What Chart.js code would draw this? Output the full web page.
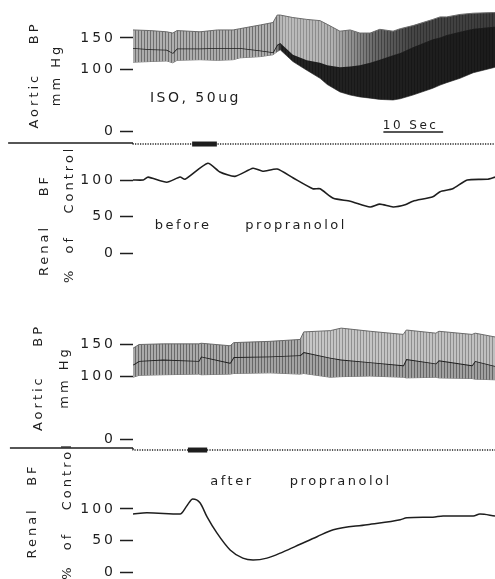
<!DOCTYPE html>
<html>
<head>
<meta charset="utf-8">
<script src="https://cdn.jsdelivr.net/npm/chart.js@4"></script>
<style>
  body { margin: 0; background: #fff; width: 495px; height: 579px; overflow: hidden; position: relative; }
  canvas { position: absolute; left: 0; }
</style>
</head>
<body>
<canvas id="bp1" width="495" height="150" style="top:0px"></canvas>
<canvas id="rbf1" width="495" height="150" style="top:150px"></canvas>
<canvas id="bp2" width="495" height="155" style="top:300px"></canvas>
<canvas id="rbf2" width="495" height="136" style="top:443px"></canvas>
<script>
// time in seconds from start of recording, pressure in mmHg, flow in % of control

// before propranolol - aortic pressure envelope
const bp1Time = [0, 2.8, 5.6, 6.6, 7.3, 11.1, 14.0, 16.6, 17.7, 19.4, 21.1, 23.2, 23.9, 24.4, 26.5, 28.8, 31.0, 32.2, 34.3, 36.0, 37.6, 39.3, 40.9, 43.1, 44.3, 46.4, 49.7, 50.9, 52.0, 54.2, 56.4, 59.7, 60.0]
const bp1Sys  = [163, 162, 160, 158, 162, 160, 163, 163, 165, 168, 171, 175, 187, 187, 183, 180, 178, 172, 161, 163, 158, 158, 164, 161, 165, 170, 180, 184, 184, 188, 190, 191, 191]
const bp1Mid  = [134, 132, 131, 126, 133, 133, 134, 134, 134, 132, 130, 127, 139, 142, 123, 114, 110, 106, 103, 104, 106, 110, 115, 122, 126, 135, 148, 151, 155, 160, 165, 168, 168]
const bp1Dia  = [111, 112, 113, 110, 114, 115, 114, 115, 118, 119, 120, 123, 128, 131, 112, 98, 85, 75, 63, 58, 55, 53, 51, 50, 52, 58, 69, 74, 78, 85, 94, 102, 103]

// before propranolol - renal blood flow
const rbf1Time = [0, 1.7, 2.5, 5.6, 7.8, 8.6, 12.4, 14.4, 16.9, 19.9, 21.5, 23.9, 26.5, 29.8, 31.0, 33.2, 36.0, 39.3, 40.9, 43.1, 45.1, 46.4, 49.7, 50.9, 53.0, 55.4, 58.7, 60.0]
const rbf1     = [100, 100, 104, 97, 104, 101, 123, 111, 105, 116, 112, 115, 103, 88, 88, 75, 71, 63, 67, 63, 66, 71, 77, 84, 88, 100, 101, 104]

// after propranolol - aortic pressure envelope
const bp2Time = [0, 1.0, 5.0, 10.9, 11.3, 16.1, 16.7, 22.7, 27.7, 28.3, 32.7, 34.5, 39.3, 44.8, 45.3, 50.2, 50.7, 56.2, 56.7, 60.0]
const bp2Sys  = [144, 150, 151, 151, 152, 148, 153, 155, 158, 170, 172, 176, 171, 166, 173, 168, 171, 166, 168, 162]
const bp2Mean = [118, 124, 126, 124, 131, 121, 130, 131, 133, 138, 129, 126, 122, 117, 127, 120, 125, 117, 124, 116]
const bp2Dia  = [98, 101, 102, 103, 102, 103, 104, 105, 103, 104, 98, 99, 100, 98, 97, 98, 97, 96, 95, 94]

// after propranolol - renal blood flow
const rbf2Time = [0, 2.3, 7.8, 9.0, 9.9, 11.1, 12.3, 13.9, 16.1, 18.2, 19.9, 22.2, 24.9, 27.7, 30.5, 33.2, 38.8, 44.3, 45.4, 49.7, 51.4, 56.4, 57.5, 60.0]
const rbf2     = [92, 94, 92, 106, 116, 110, 87, 62, 35, 22, 19, 22, 32, 44, 56, 67, 75, 83, 86, 87, 89, 89, 92, 89]

// event / time-marker channel and ISO injection
const evt1Time = [-20.7, 0, 0, 60]
const evt1Level = [-19.4, -19.4, -21, -21]
const inj1Time = [9.8, 13.9]
const evt2Time = [-20.4, 0, 0, 60]
const evt2Level = [-14.3, -14.3, -17.5, -17.5]
const inj2Time = [9.1, 12.3]
const scaleBarTime = [41.5, 51.4]   // 10 s

const bpTicks = [0, 100, 150]
const rbfTicks = [0, 50, 100]

const INK = '#1e1e1e'
const FONT = 'DejaVu Sans'

const pts = (ts, vs) => ts.map((t, i) => ({x: t, y: Array.isArray(vs) ? vs[i] : vs}))

// grey tones of the pulsatile band, [time, light stripe, dark stripe]
const bp1Upper = [[0, 175, 110], [24, 175, 110], [25, 188, 150], [33, 178, 135], [40, 105, 70], [46, 70, 50], [60, 60, 45]]
const bp1Lower = [[0, 172, 110], [23.6, 172, 110], [24.6, 35, 25], [60, 28, 22]]
const bp2Upper = [[0, 170, 105], [27.8, 170, 105], [28.6, 198, 145], [60, 192, 140]]
const bp2Lower = [[0, 165, 105], [60, 160, 100]]

function bandFill(chart, stops) {
  const xs = chart.scales.x
  if (!xs || !chart.chartArea) return '#999'
  const cv = document.createElement('canvas')
  cv.width = chart.width; cv.height = 4
  const g = cv.getContext('2d')
  for (let px = 0; px < cv.width; px++) {
    const t = xs.getValueForPixel(px + 0.5)
    let i = 0
    while (i < stops.length - 2 && t > stops[i + 1][0]) i++
    const [t0, l0, d0] = stops[i], [t1, l1, d1] = stops[i + 1]
    const f = Math.max(0, Math.min(1, (t - t0) / (t1 - t0)))
    const lv = Math.round(px % 3 === 0 ? d0 + (d1 - d0) * f : l0 + (l1 - l0) * f)
    g.fillStyle = `rgb(${lv},${lv},${lv})`
    g.fillRect(px, 0, 1, 4)
  }
  return chart.ctx.createPattern(cv, 'repeat')
}

const spacing = {
  id: 'spacing',
  beforeDraw(chart) { chart.ctx.letterSpacing = '3px' }
}

const notes = {
  id: 'notes',
  afterDatasetsDraw(chart, args, opts) {
    const ctx = chart.ctx, {x, y} = chart.scales
    ctx.save()
    ctx.fillStyle = INK
    ctx.textAlign = 'left'
    ctx.textBaseline = 'middle'
    ctx.letterSpacing = '2.5px'
    for (const n of (opts.items || [])) {
      ctx.font = (n.size || 13) + 'px "' + FONT + '"'
      ctx.fillText(n.text, x.getPixelForValue(n.t), y.getPixelForValue(n.v))
    }
    ctx.restore()
  }
}

function eventSets(time, level, inj) {
  return [
    {data: pts(time, level), borderColor: INK, borderWidth: 1.4, clip: false, fill: false,
     segment: {borderDash: c => c.p0.parsed.x >= 0 ? [1.2, 1.3] : undefined}},
    {data: pts(inj, level[level.length - 1]), borderColor: INK, borderWidth: 5, clip: false, fill: false}
  ]
}

function panel(id, box, yTicks, title, datasets, items) {
  const cv = document.getElementById(id)
  const top = box.top, h = cv.height
  new Chart(cv, {
    type: 'line',
    data: {datasets},
    options: {
      responsive: false,
      animation: false,
      events: [],
      devicePixelRatio: 1,
      layout: {padding: 0},
      plugins: {legend: {display: false}, tooltip: {enabled: false}, notes: {items}},
      elements: {point: {radius: 0}, line: {tension: 0, borderJoinStyle: 'round'}},
      scales: {
        x: {type: 'linear', min: 0, max: 60, display: false},
        y: {
          min: (box.zero - (top + h)) / box.ppu,
          max: (box.zero - top) / box.ppu,
          afterFit: s => { s.width = 133; s.paddingTop = 0; s.paddingBottom = 0 },
          afterBuildTicks: s => { s.ticks = yTicks.map(v => ({value: v})) },
          border: {display: false},
          grid: {drawOnChartArea: false, tickLength: 13, tickWidth: 1.5, tickColor: INK},
          ticks: {autoSkip: false, padding: 4, color: INK, font: {family: FONT, size: 14}},
          title: {
            display: true, text: title, color: INK,
            font: {family: FONT, size: 13, lineHeight: box.titleLine + 'px'},
            padding: {top: box.titlePad, bottom: 0}
          }
        }
      }
    },
    plugins: [spacing, notes]
  })
}

// before propranolol: pressure
panel('bp1', {top: 0, zero: 131, ppu: 0.62, titleLine: 22, titlePad: 24}, bpTicks,
  ['Aortic    BP', 'mm Hg'],
  [
    {data: pts(bp1Time, bp1Sys), borderColor: '#6a6a6a', borderWidth: 1, fill: '+1',
     backgroundColor: c => bandFill(c.chart, bp1Upper)},
    {data: pts(bp1Time, bp1Mid), borderColor: INK, borderWidth: 1.6, fill: '+1',
     backgroundColor: c => bandFill(c.chart, bp1Lower)},
    {data: pts(bp1Time, bp1Dia), borderColor: '#555', borderWidth: 0.8, fill: false},
    ...eventSets(evt1Time, evt1Level, inj1Time),
    {data: pts(scaleBarTime, -1.6), borderColor: INK, borderWidth: 1.5, fill: false}
  ],
  [{text: 'ISO, 50ug', t: 2.8, v: 53, size: 14}, {text: '10 Sec', t: 41.4, v: 8, size: 12}])

// before propranolol: renal flow
panel('rbf1', {top: 150, zero: 253, ppu: 0.73, titleLine: 25, titlePad: 32}, rbfTicks,
  ['Renal    BF', '   %  of   Control'],
  [{data: pts(rbf1Time, rbf1), borderColor: INK, borderWidth: 1.6, fill: false, tension: 0.2}],
  [{text: 'before', t: 3.6, v: 38}, {text: 'propranolol', t: 18.6, v: 38}])

// after propranolol: pressure
panel('bp2', {top: 300, zero: 439, ppu: 0.63, titleLine: 26, titlePad: 26}, bpTicks,
  ['Aortic    BP', 'mm Hg'],
  [
    {data: pts(bp2Time, bp2Sys), borderColor: '#6a6a6a', borderWidth: 1, fill: '+1',
     backgroundColor: c => bandFill(c.chart, bp2Upper)},
    {data: pts(bp2Time, bp2Mean), borderColor: INK, borderWidth: 1.8, fill: '+1',
     backgroundColor: c => bandFill(c.chart, bp2Lower)},
    {data: pts(bp2Time, bp2Dia), borderColor: '#555', borderWidth: 0.8, fill: false},
    ...eventSets(evt2Time, evt2Level, inj2Time)
  ],
  [])

// after propranolol: renal flow
panel('rbf2', {top: 443, zero: 572, ppu: 0.63, titleLine: 35, titlePad: 15}, rbfTicks,
  ['Renal   BF', '%  of   Control'],
  [{data: pts(rbf2Time, rbf2), borderColor: INK, borderWidth: 1.5, fill: false, cubicInterpolationMode: 'monotone'}],
  [{text: 'after', t: 12.8, v: 143}, {text: 'propranolol', t: 26.0, v: 143}])
</script>
</body>
</html>
